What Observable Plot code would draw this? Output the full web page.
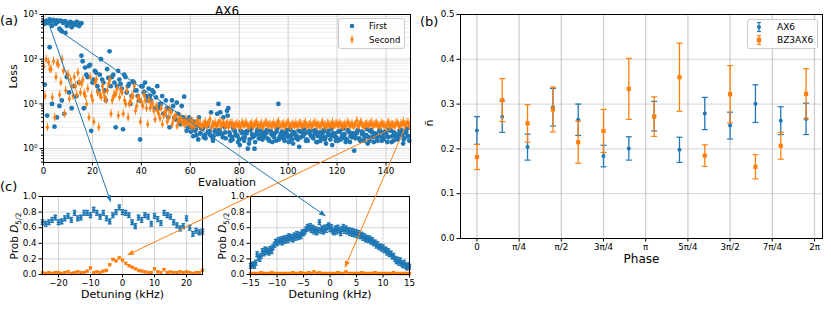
<!DOCTYPE html>
<html><head><meta charset="utf-8">
<script src="https://cdn.jsdelivr.net/npm/d3@7"></script>
<script src="https://cdn.jsdelivr.net/npm/@observablehq/plot@0.6"></script>
<style>
body{margin:0;background:#fff;}
#fig{position:relative;width:831px;height:323px;font-family:"DejaVu Sans",sans-serif;overflow:hidden;}
#fig .panel{position:absolute;}
</style></head>
<body><div id="fig"></div>
<script>
// ---------- DATA ----------
// Panel (a): loss vs evaluation
const firstA = [680,720,640,700,760,620,690,730,650,700,600,680,640,590,660,610,
90,65,40,75,30,55,25,45,35,20,60,150,40,30,25,
35,22,45,18,28,15,30,20,12,25,18,15,22,12,18,
14,8,10,6,12,5,7,9,4.5,6,3.5,5,4,3,4.5,
3,2.5,3.5,2.2,2.8,2,3.2,2.5,1.8,2.4,6,2.6,2.1,3,7,
2.3,1.8,2.6,2,1.6,2.4,1.5,2.2,1.3,2.8,1.9,2.1,1.7,2.5,1.8,
2.2,1.6,2.4,1.9,1.5,10,2.1,1.7,2.3,1.8,2.6,1.3,2,1.6,2.4,
1.9,2.2,1.5,2.5,1.8,2.1,1.4,2.3,1.9,1.6,2.4,2,1.2,2.2,1.7,
2.5,1.9,2.1,1.6,2.3,1.8,0.9,2.2,1.7,2.4,1.5,2,1.8,2.6,1.4,
2.1,1.9,2.3,1.6,2.2,1.8,2.5,1.5,2,1.7,2.4,1.3,2.2,1.9];
const firstB = [27,5.5,185,10,3.1,5,9,12,6,40,18,8,25,15,30,120,
8,45,70,2.5,35,50,20,100,30,12,38,25,45,3,55,
28,2.7,40,25,10,32,20,15,1.6,25,30,12,15,20,8,
25,10,15,6,8,3,12,5,10.7,4,9,14.5,2.5,5,3,
4,2,5,2.8,1.8,3.5,2.3,6.5,1.9,2.6,10,2.2,5,1.7,8,
1.5,2.9,2,1.4,2.5,1.7,2.3,1,2.6,1.8,1.4,2.7,2,1.6,2.3,
1.7,2.5,1.4,2.2,2.8,1.8,2.4,1.5,2.1,2.7,1.6,2.3,1.9,1.1,2.5,
2.7,1.6,2.3,1.9,2.5,1.4,2.2,1.8,2.6,1.3,2.1,2.7,1.9,1.5,2.4,
1.6,2.8,1.4,2.5,1.9,2.2,1.7,2.6,1.5,2.3,2,1.3,2.5,1.8,2.2,
1.5,2.6,1.8,2.4,1.4,2.7,1.9,2.2,1.6,2.5,2,1.7,2.8,1.5];
const firstCStart = 60;
const firstC = [2.4,1.9,2.7,1.6,2.2,2.9,1.7,2.4,2,1.5,2.6,2.1,6.5,1.8,2.3,
5.5,2,1.6,2.4,1.9,1.2,2.2,1.8,2.5,1.6,2.1,1,2.4,1.7,2.2,
1.9,2.6,1.5,2.1,1.8,2.4,1.6,2.2,1.9,2.6,1.4,2,2.3,1.7,2.5,
1.8,2.1,1.5,2.4,2,1.7,2.6,1.9,1.5,2.3,1.8,2.5,1.6,2.2,1.9,
1.5,2.4,2,1.7,2.6,1.4,2.2,1.9,2.5,1.6,2.1,1.8,2.7,1.5,2.3,
2,1.7,2.5,1.5,2.2,1.9,2.6,1.4,2.3,1.8,2.1,2.6,1.6,2.4,1.9];
const firstTopEval = [0.5,1.5,2.5,3.5,4.5,5.5,6.5,7.5,8.5,9.5,10.5,11.5,12.5,13.5,14.5,15.5,7,9];
const firstTopLoss = [620,700,780,560,690,740,480,420,700,560,650,520,610,680,550,640,450,390];

const secondA = [70,100,85,60,90,40,75,30,55,20,45,35,15,25,50,18,
35,15,22,40,12,30,18,16,25,14,20,35,12,16,22,
14,18,12,20,10,15,25,9,13,11,16,8,12,10,7,
9,6,8,5.5,7,5,6.5,4.5,5.5,4.2,5,4,4.5,3.8,4.2,
3.9,3.5,4.2,3.6,3.3,4,3.5,4.6,3.4,3.8,3.5,4.1,3.6,3.3,3.9,
3.5,3.7,3.2,3.6,3.4,3.8,3.3,3.5,3.1,3.7,3.4,3.9,3.3,3.6,3.4,
3.8,3.4,3.2,3.7,3.5,4,3.3,3.6,3.4,3.8,3.1,3.5,3.7,3.3,3.6,
3.4,3.8,3.2,3.6,3.4,3.7,3.5,3.1,3.8,3.4,3.6,3.3,3.9,3.4,3.5,
3.7,3.2,3.5,3.8,3.3,3.6,3.3,4.2,3.4,3.7,3.2,3.6,3.4,3.8,3.4,
3.6,3.3,3.7,3.4,3.2,3.8,3.5,3.3,3.7,3.3,3.6,4,3.4,3.7];
const secondB = [15,3,60,14,5,80,16,100,6,45,13,25,40,16,30,28,
17,10,5,15,4,35,3,14,18,12,28,6,15,17,5.5,
20,6,10,5,11,15,7,14,4,9,12,3.5,8,10,4.5,
7,4.8,3.5,6,4,7.5,3.5,5,3.2,4.5,3.8,3.4,4,3.6,3.1,
3.1,3.7,3.3,2.9,3.5,3.2,3.8,3,3.4,3.2,3.6,3.1,3.7,3.3,3,
3.6,3.1,3.4,3.2,3,3.5,3.7,3.2,3.4,3.1,3.6,3.2,3.3,3,3.7,
3.2,3.5,3.3,3.1,3.6,3.2,3.4,3,3.7,3.2,3.5,3.1,3.3,3.6,3.1,
3.5,3.2,3.4,3.1,3.7,3.2,3.3,3.6,3.2,3,3.5,3.3,3.1,3.6,3.2,
3.4,3.2,3.1,3.6,3.3,3.1,3.5,3.2,3.8,3.1,3.4,3.3,3.6,3.2,3.5,
3.3,3.1,3.5,3.2,3.6,3.1,3.4,3.2,3.7,3.1,3.5,3.3,3.8,3.2];
const secondRelErr = 1.25;
const evalTicks = [0,20,40,60,80,100,120,140];
const lossMajorTicks = [1,10,100,1000];
const lossMinorTicks = [0.5,0.6,0.7,0.8,0.9,2,3,4,5,6,7,8,9,20,30,40,50,60,70,80,90,200,300,400,500,600,700,800,900];

// Panel (c): detuning scans
const detL = d3.range(-25, 26, 1);
const probL1 = [0.67,0.65,0.67,0.70,0.73,0.67,0.68,0.72,0.75,0.70,
0.79,0.72,0.73,0.79,0.79,0.76,0.83,0.79,0.74,0.79,
0.72,0.68,0.76,0.80,0.86,0.80,0.79,0.76,0.67,0.62,
0.73,0.70,0.76,0.74,0.65,0.75,0.71,0.66,0.79,0.76,
0.74,0.67,0.63,0.59,0.62,0.72,0.60,0.52,0.56,0.54,0.55];
const probL2 = [0.02,0.01,0.02,0.01,0.02,0.02,0.01,0.02,0.03,0.01,
0.02,0.03,0.02,0.02,0.04,0.08,0.02,0.03,0.02,0.04,
0.05,0.12,0.19,0.17,0.21,0.18,0.14,0.11,0.09,0.07,
0.05,0.04,0.03,0.02,0.02,0.07,0.03,0.02,0.06,0.02,
0.03,0.02,0.02,0.03,0.02,0.03,0.02,0.01,0.02,0.02,0.05];
const detR1 = d3.range(0, 121).map(i => -15 + i * 0.25);
const probR1 = [0.11,0.12,0.13,0.11,0.15,0.26,0.22,0.20,0.24,0.30,
0.27,0.32,0.29,0.31,0.28,0.33,0.30,0.35,0.38,0.42,
0.40,0.44,0.42,0.45,0.41,0.46,0.43,0.47,0.44,0.49,
0.46,0.48,0.45,0.50,0.47,0.52,0.48,0.51,0.49,0.54,
0.53,0.55,0.58,0.61,0.59,0.62,0.57,0.60,0.55,0.58,
0.54,0.57,0.67,0.56,0.59,0.55,0.60,0.57,0.61,0.63,
0.58,0.61,0.56,0.54,0.59,0.55,0.60,0.57,0.53,0.58,
0.61,0.56,0.59,0.55,0.57,0.53,0.56,0.52,0.55,0.51,
0.54,0.50,0.53,0.49,0.51,0.47,0.49,0.45,0.47,0.44,
0.46,0.42,0.44,0.40,0.41,0.37,0.39,0.35,0.36,0.33,
0.35,0.31,0.32,0.28,0.30,0.26,0.27,0.23,0.24,0.20,
0.17,0.19,0.15,0.18,0.14,0.12,0.15,0.11,0.09,0.12,0.10];
const detR2 = d3.range(0, 61).map(i => -15 + i * 0.5);
const probR2 = [0.01,0.01,0.01,0.01,0.02,0.01,0.01,0.01,0.02,0.01,
0.01,0.01,0.01,0.01,0.01,0.01,0.02,0.01,0.01,0.02,
0.01,0.01,0.02,0.01,0.03,0.01,0.02,0.01,0.01,0.01,
0.01,0.01,0.01,0.02,0.01,0.01,0.03,0.01,0.01,0.01,
0.01,0.01,0.02,0.01,0.01,0.01,0.01,0.02,0.01,0.01,
0.01,0.01,0.01,0.01,0.02,0.01,0.01,0.01,0.01,0.01,0.01];
const probErr1 = 0.03, probErr2 = 0.015;
const probTicks = [0,0.2,0.4,0.6,0.8,1.0];
const detTicksL = [-20,-10,0,10,20];
const detTicksR = [-15,-10,-5,0,5,10,15];

// Panel (b): n-bar vs phase
const phase = [0,0.471,0.942,1.414,1.885,2.356,2.827,3.299,3.770,4.241,4.712,5.184,5.655,6.126];
const nbarAX6 = [0.241,0.272,0.204,0.293,0.265,0.184,0.201,0.273,0.198,0.279,0.252,0.301,0.263,0.267];
const errAX6 = [0.031,0.035,0.029,0.042,0.035,0.024,0.026,0.033,0.028,0.036,0.030,0.042,0.031,0.035];
const nbarBZ = [0.182,0.309,0.257,0.288,0.215,0.240,0.334,0.272,0.360,0.185,0.322,0.160,0.207,0.323];
const errBZ = [0.028,0.048,0.042,0.050,0.047,0.048,0.068,0.044,0.076,0.024,0.064,0.027,0.030,0.056];
const phaseTickLabels = ["0","π/4","π/2","3π/4","π","5π/4","3π/2","7π/4","2π"];
const nbarTicks = [0,0.1,0.2,0.3,0.4,0.5];

// Zoom connectors: start in (a) [evaluation, loss], end in (c) [detuning, prob]
const connectors = [
  {from:[2.66,550], panel:"L", to:[-3.5,0.92], color:"C1"},
  {from:[6.1,447], panel:"R", to:[-0.66,0.74], color:"C1"},
  {from:[141.8,2.65], panel:"L", to:[1.56,0.24], color:"C2"},
  {from:[147.9,2.83], panel:"R", to:[2.87,0.077], color:"C2"}
];

// ---------- DRAW ----------
const C1 = "#1f77b4", C2 = "#ff7f0e";
const COL = {C1, C2};
const FONT = "DejaVu Sans, sans-serif";
const TICKFS = 8.7;
const thinDiamond = {draw(ctx, size){const r=Math.sqrt(size/Math.PI); ctx.moveTo(0,-r*1.35); ctx.lineTo(r*0.85,0); ctx.lineTo(0,r*1.35); ctx.lineTo(-r*0.85,0); ctx.closePath();}};
const capSym = {draw(ctx, size){const r=Math.sqrt(size/Math.PI); ctx.moveTo(-r,0); ctx.lineTo(r,0);}};
const style = {fontFamily: FONT, fontSize: "9px", color: "black", background: "transparent", overflow: "visible"};
const majorGrid = {stroke:"#b0b0b0", strokeOpacity:0.6, strokeWidth:0.9};
const minorGrid = {stroke:"#b0b0b0", strokeOpacity:0.3, strokeWidth:0.8};
const sup = {"-1":"⁻¹","0":"⁰","1":"¹","2":"²","3":"³"};
const supFmt = d => "10" + sup[String(Math.round(Math.log10(d)))];

const firstPts = [
  ...firstA.map((v,i)=>({x:i, y:v})),
  ...firstB.map((v,i)=>({x:i+0.5, y:v})),
  ...firstC.map((v,i)=>({x:firstCStart+i+0.25, y:v})),
  ...firstTopLoss.map((v,i)=>({x:firstTopEval[i], y:v}))
];
const secondPts = [
  ...secondA.map((v,i)=>({x:i+0.1, y:v})),
  ...secondB.map((v,i)=>({x:i+0.6, y:v}))
].map(d => ({...d, lo: d.y/secondRelErr, hi: d.y*secondRelErr}));

const fig = d3.select("#fig");
function place(plot, left, top){
  const div = fig.append("div").attr("class","panel").style("left",left+"px").style("top",top+"px");
  div.node().appendChild(plot);
  return plot;
}

// Panel (a)
const plotA = place(Plot.plot({
  width:420, height:190, marginLeft:43, marginRight:10, marginTop:14, marginBottom:28,
  style,
  x:{domain:[0,150], axis:null},
  y:{type:"log", domain:[0.49,1000], axis:null},
  marks:[
    Plot.gridY(lossMinorTicks, minorGrid),
    Plot.gridY(lossMajorTicks, majorGrid),
    Plot.gridX(evalTicks, majorGrid),
    Plot.dot(firstPts, {x:"x", y:"y", fill:C1, r:2.4}),
    Plot.ruleX(secondPts, {x:"x", y1:"lo", y2:"hi", stroke:C2, strokeWidth:0.9}),
    Plot.dot(secondPts, {x:"x", y:"y", fill:C2, r:2.1, symbol:thinDiamond}),
    Plot.frame({stroke:"black", strokeWidth:1}),
    Plot.axisY(lossMinorTicks, {tickSize:2, tickFormat:()=>"", label:null}),
    Plot.axisY(lossMajorTicks, {tickSize:3.5, tickPadding:2.5, tickFormat:supFmt, label:null, fontSize:TICKFS}),
    Plot.axisX(evalTicks, {tickSize:3.5, tickPadding:2, label:null, fontSize:TICKFS}),
    Plot.text(["Loss"], {text:d=>d, frameAnchor:"left", dx:-30, rotate:-90, fontSize:11}),
    Plot.text(["Evaluation"], {text:d=>d, frameAnchor:"bottom", dy:23, fontSize:11}),
    Plot.text(["AX6"], {text:d=>d, frameAnchor:"top", dy:-8, fontSize:12})
  ]
}), 0, 0);

// Panel (c) helper
function scanPlot(det1, p1, det2, p2, domain, ticks, mr, ml){
  const d1 = det1.map((x,i)=>({x, y:p1[i], lo:p1[i]-probErr1, hi:p1[i]+probErr1}));
  const d2 = det2.map((x,i)=>({x, y:p2[i], lo:Math.max(0,p2[i]-probErr2), hi:p2[i]+probErr2}));
  return Plot.plot({
    width:210, height:133, marginLeft:ml, marginRight:mr, marginTop:6, marginBottom:49,
    style,
    x:{domain, axis:null},
    y:{domain:[0,1], axis:null},
    marks:[
      Plot.gridY(probTicks, majorGrid),
      Plot.gridX(ticks, majorGrid),
      Plot.ruleX(d1, {x:"x", y1:"lo", y2:"hi", stroke:C1, strokeWidth:1}),
      Plot.dot(d1, {x:"x", y:"lo", symbol:capSym, stroke:C1, fill:"none", r:1.8}),
      Plot.dot(d1, {x:"x", y:"hi", symbol:capSym, stroke:C1, fill:"none", r:1.8}),
      Plot.dot(d1, {x:"x", y:"y", fill:C1, r:1.7}),
      Plot.ruleX(d2, {x:"x", y1:"lo", y2:"hi", stroke:C2, strokeWidth:1}),
      Plot.dot(d2, {x:"x", y:"hi", symbol:capSym, stroke:C2, fill:"none", r:1.8}),
      Plot.dot(d2, {x:"x", y:"y", fill:C2, r:1.7, symbol:"square"}),
      Plot.frame({stroke:"black", strokeWidth:1}),
      Plot.axisY(probTicks, {tickSize:3.5, tickPadding:2.5, tickFormat:d3.format(".1f"), label:null, fontSize:TICKFS}),
      Plot.axisX(ticks, {tickSize:3.5, tickPadding:2, tickFormat:d3.format("d"), label:null, fontSize:TICKFS}),
      Plot.text(["Detuning (kHz)"], {text:d=>d, frameAnchor:"bottom", dy:23, fontSize:11})
    ]
  });
}
const plotCL = place(scanPlot(detL, probL1, detL, probL2, [-25,25], detTicksL, 8, 42), 0, 190);
const plotCR = place(scanPlot(detR1, probR1, detR2, probR2, [-15,15], detTicksR, 11, 40), 210, 190);

// Panel (b)
const ax6 = phase.map((x,i)=>({x, y:nbarAX6[i], lo:nbarAX6[i]-errAX6[i], hi:nbarAX6[i]+errAX6[i]}));
const bz = phase.map((x,i)=>({x, y:nbarBZ[i], lo:nbarBZ[i]-errBZ[i], hi:nbarBZ[i]+errBZ[i]}));
const phaseTickVals = phaseTickLabels.map((_,k)=>k*Math.PI/4);
const plotB = place(Plot.plot({
  width:411, height:323, marginLeft:40, marginRight:9, marginTop:14, marginBottom:85,
  style,
  x:{domain:[-0.306,6.432], axis:null},
  y:{domain:[0,0.5], axis:null},
  marks:[
    Plot.gridX(phaseTickVals, {...majorGrid, strokeWidth:1.3}),
    Plot.gridY(nbarTicks, majorGrid),
    Plot.ruleX(ax6, {x:"x", y1:"lo", y2:"hi", stroke:C1, strokeWidth:1.3}),
    Plot.dot(ax6, {x:"x", y:"lo", symbol:capSym, stroke:C1, fill:"none", r:3, strokeWidth:1.2}),
    Plot.dot(ax6, {x:"x", y:"hi", symbol:capSym, stroke:C1, fill:"none", r:3, strokeWidth:1.2}),
    Plot.dot(ax6, {x:"x", y:"y", fill:C1, r:2}),
    Plot.ruleX(bz, {x:"x", y1:"lo", y2:"hi", stroke:C2, strokeWidth:1.3}),
    Plot.dot(bz, {x:"x", y:"lo", symbol:capSym, stroke:C2, fill:"none", r:3, strokeWidth:1.2}),
    Plot.dot(bz, {x:"x", y:"hi", symbol:capSym, stroke:C2, fill:"none", r:3, strokeWidth:1.2}),
    Plot.dot(bz, {x:"x", y:"y", fill:C2, r:2.4, symbol:"square"}),
    Plot.frame({stroke:"black", strokeWidth:1}),
    Plot.axisY(nbarTicks, {tickSize:3.5, tickPadding:2.5, tickFormat:d3.format(".1f"), label:null, fontSize:TICKFS}),
    Plot.axisX(phaseTickVals, {tickSize:3.5, tickPadding:2, tickFormat:(d,i)=>phaseTickLabels[i], label:null, fontSize:TICKFS}),
    Plot.text(["n\u0304"], {text:d=>d, frameAnchor:"left", dx:-31, rotate:-90, fontSize:11}),
    Plot.text(["Phase"], {text:d=>d, frameAnchor:"bottom", dy:24, fontSize:12})
  ]
}), 420, 0);

// ---------- OVERLAY: labels, legends, connectors ----------
const ov = fig.append("svg").attr("width",831).attr("height",323)
  .style("position","absolute").style("left","0px").style("top","0px").style("pointer-events","none")
  .attr("font-family", FONT);

function P(plot, off, x, y){ return [off[0]+plot.scale("x").apply(x), off[1]+plot.scale("y").apply(y)]; }

// panel letters
[["(a)",0,20],["(b)",420,21],["(c)",0,186]].forEach(([t,x,y])=>{
  ov.append("text").attr("x",x).attr("y",y).attr("dominant-baseline","central").attr("font-size",13).text(t);
});
// Prob D5/2 labels
[18, 226].forEach(x=>{
  const t = ov.append("text").attr("transform",`translate(${x},236) rotate(-90)`).attr("text-anchor","middle").attr("font-size",10.5);
  t.append("tspan").text("Prob ");
  t.append("tspan").attr("font-style","italic").text("D");
  t.append("tspan").attr("font-size",7.5).attr("dy",2.5).text("5/2");
});

// legend (a)
{
  const g = ov.append("g");
  g.append("rect").attr("x",338.5).attr("y",18.5).attr("width",66).attr("height",30).attr("rx",2.5)
    .attr("fill","white").attr("fill-opacity",0.8).attr("stroke","#cccccc");
  g.append("circle").attr("cx",352).attr("cy",26).attr("r",2.3).attr("fill",C1);
  g.append("line").attr("x1",352).attr("x2",352).attr("y1",35.5).attr("y2",43.5).attr("stroke",C2);
  g.append("path").attr("d",d3.symbol(thinDiamond, 2.1*2.1*Math.PI)()).attr("transform","translate(352,39.5)").attr("fill",C2);
  g.append("text").attr("x",369).attr("y",26).attr("dominant-baseline","central").attr("font-size",8.5).text("First");
  g.append("text").attr("x",369).attr("y",39.5).attr("dominant-baseline","central").attr("font-size",8.5).text("Second");
}
// legend (b)
{
  const g = ov.append("g");
  g.append("rect").attr("x",747.5).attr("y",19.5).attr("width",70).attr("height",29).attr("rx",2.5)
    .attr("fill","white").attr("fill-opacity",0.8).attr("stroke","#cccccc");
  [[27,C1],[40,C2]].forEach(([cy,c])=>{
    g.append("line").attr("x1",759).attr("x2",759).attr("y1",cy-4.5).attr("y2",cy+4.5).attr("stroke",c).attr("stroke-width",1.2);
    g.append("line").attr("x1",757).attr("x2",761).attr("y1",cy-4.5).attr("y2",cy-4.5).attr("stroke",c).attr("stroke-width",1.2);
    g.append("line").attr("x1",757).attr("x2",761).attr("y1",cy+4.5).attr("y2",cy+4.5).attr("stroke",c).attr("stroke-width",1.2);
  });
  g.append("circle").attr("cx",759).attr("cy",27).attr("r",2).attr("fill",C1);
  g.append("rect").attr("x",756.8).attr("y",37.8).attr("width",4.4).attr("height",4.4).attr("fill",C2);
  g.append("text").attr("x",777).attr("y",27).attr("dominant-baseline","central").attr("font-size",9).text("AX6");
  g.append("text").attr("x",777).attr("y",40).attr("dominant-baseline","central").attr("font-size",9).text("BZ3AX6");
}

// connectors
connectors.forEach(c=>{
  const p0 = P(plotA, [0,0], c.from[0], c.from[1]);
  const p1 = c.panel === "L" ? P(plotCL, [0,190], c.to[0], c.to[1]) : P(plotCR, [210,190], c.to[0], c.to[1]);
  const color = COL[c.color];
  const dx = p1[0]-p0[0], dy = p1[1]-p0[1], L = Math.hypot(dx,dy), ux = dx/L, uy = dy/L;
  const hl = 7, hw = 2.6;
  const bx = p1[0]-ux*hl, by = p1[1]-uy*hl;
  ov.append("line").attr("x1",p0[0]).attr("y1",p0[1]).attr("x2",bx).attr("y2",by).attr("stroke",color).attr("stroke-width",1);
  ov.append("path").attr("d",`M${p1[0]},${p1[1]}L${bx-uy*hw},${by+ux*hw}L${bx+uy*hw},${by-ux*hw}Z`).attr("fill",color);
});
</script></body></html>
